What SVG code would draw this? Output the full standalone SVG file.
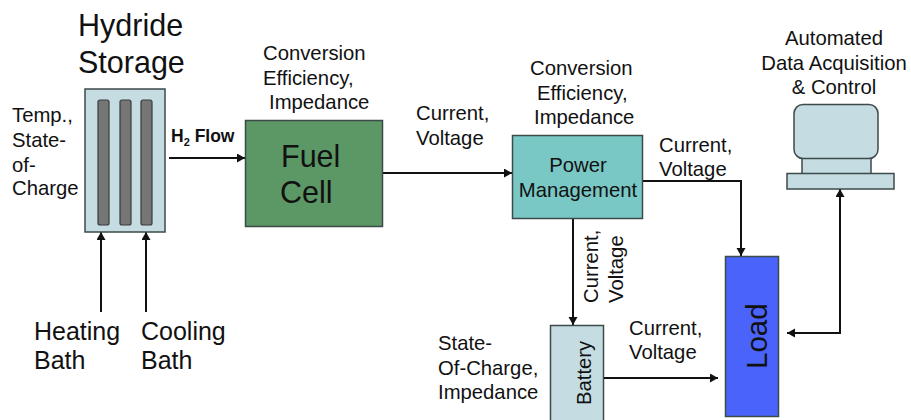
<svg xmlns="http://www.w3.org/2000/svg" width="911" height="420" viewBox="0 0 911 420">
<style>
text{font-family:"Liberation Sans",Arial,sans-serif;fill:#111}
.s{font-size:20.300px}.m{font-size:25px}.l{font-size:30.500px}
.box{stroke:#3c4a4a;stroke-width:1.5}
.ice{fill:#c5dde2}
.rod{fill:#767676;stroke:#3a3a3a;stroke-width:1.2}
.c{fill:none;stroke:#111;stroke-width:2}
</style>
<defs>
<marker id="a" markerUnits="userSpaceOnUse" markerWidth="10" markerHeight="10" refX="8" refY="4.5" orient="auto-start-reverse"><path d="M0 0L8 4.5L0 9Z" fill="#111"/></marker>
</defs>
<rect width="911" height="420" fill="#fff"/>
<g id="connectors">
<path class="c" d="M169 158H245" marker-end="url(#a)"/>
<path class="c" d="M383 173H512" marker-end="url(#a)"/>
<path class="c" d="M642 181H741V256" marker-end="url(#a)"/>
<path class="c" d="M573 219V325" marker-end="url(#a)"/>
<path class="c" d="M604 378H718" marker-end="url(#a)"/>
<path class="c" d="M787 333H840V189" marker-start="url(#a)" marker-end="url(#a)"/>
<path class="c" d="M101 312V232" marker-end="url(#a)"/>
<path class="c" d="M146 312V232" marker-end="url(#a)"/>
</g>
<g id="hydride-storage">
<text class="l" x="78" y="36">Hydride</text><text class="l" x="78" y="73">Storage</text>
<rect class="box ice" x="85" y="89" width="80" height="143"/>
<rect class="rod" x="98" y="100" width="11" height="125" rx="2"/>
<rect class="rod" x="120" y="100" width="11" height="125" rx="2"/>
<rect class="rod" x="141" y="100" width="11" height="125" rx="2"/>
</g>
<g id="storage-state"><text class="s" x="12" y="122">Temp.,</text><text class="s" x="12" y="147">State-</text><text class="s" x="12" y="172">of-</text><text class="s" x="12" y="195">Charge</text></g>
<g id="h2-flow"><text x="171" y="142" style="font-size:17.500px;font-weight:bold">H<tspan dy="4" style="font-size:11px">2</tspan><tspan dy="-4"> Flow</tspan></text></g>
<g id="fuel-cell-params"><text class="s" x="263" y="60">Conversion</text><text class="s" x="263" y="85">Efficiency,</text><text class="s" x="269" y="109">Impedance</text></g>
<g id="fuel-cell">
<rect class="box" x="245.500" y="120.500" width="137" height="106" fill="#5c9766"/>
<text class="l" x="281" y="167">Fuel</text><text class="l" x="280" y="203">Cell</text>
</g>
<g id="current-voltage-1"><text class="s" x="416" y="120">Current,</text><text class="s" x="416" y="145">Voltage</text></g>
<g id="power-params"><text class="s" x="530" y="75">Conversion</text><text class="s" x="537" y="100">Efficiency,</text><text class="s" x="534" y="124">Impedance</text></g>
<g id="power-management">
<rect class="box" x="512.500" y="135.500" width="130" height="83" fill="#79c8c6"/>
<text class="s" x="578" y="172" text-anchor="middle">Power</text><text class="s" x="578" y="197" text-anchor="middle">Management</text>
</g>
<g id="current-voltage-2"><text class="s" x="659" y="152">Current,</text><text class="s" x="659" y="176">Voltage</text></g>
<g id="current-voltage-3"><text class="s" transform="translate(598 303) rotate(-90)">Current,</text><text class="s" transform="translate(623 303) rotate(-90)">Voltage</text></g>
<g id="battery-params"><text class="s" x="438" y="350">State-</text><text class="s" x="438" y="375">Of-Charge,</text><text class="s" x="438" y="399">Impedance</text></g>
<g id="battery">
<path class="box ice" d="M550.500 420V325.500H603.500V420"/>
<text class="s" transform="translate(591 405) rotate(-90)">Battery</text>
</g>
<g id="current-voltage-4"><text class="s" x="629" y="335">Current,</text><text class="s" x="629" y="359">Voltage</text></g>
<g id="load">
<rect class="box" x="725.500" y="256.500" width="53" height="160" fill="#4a64fb"/>
<text transform="translate(767 369) rotate(-90)" style="font-size:29.500px">Load</text>
</g>
<g id="daq-label"><text class="s" x="834" y="45" text-anchor="middle">Automated</text><text class="s" x="834" y="70" text-anchor="middle">Data Acquisition</text><text class="s" x="834" y="94" text-anchor="middle">&amp; Control</text></g>
<g id="computer">
<rect class="box ice" x="802" y="158" width="69" height="16"/>
<rect class="box ice" x="787" y="173.500" width="107" height="15.500"/>
<rect class="box ice" x="794" y="104.500" width="84" height="54" rx="9"/>
</g>
<g id="baths"><text class="m" x="34" y="340">Heating</text><text class="m" x="34" y="369">Bath</text><text class="m" x="141" y="340">Cooling</text><text class="m" x="141" y="369">Bath</text></g>
</svg>
